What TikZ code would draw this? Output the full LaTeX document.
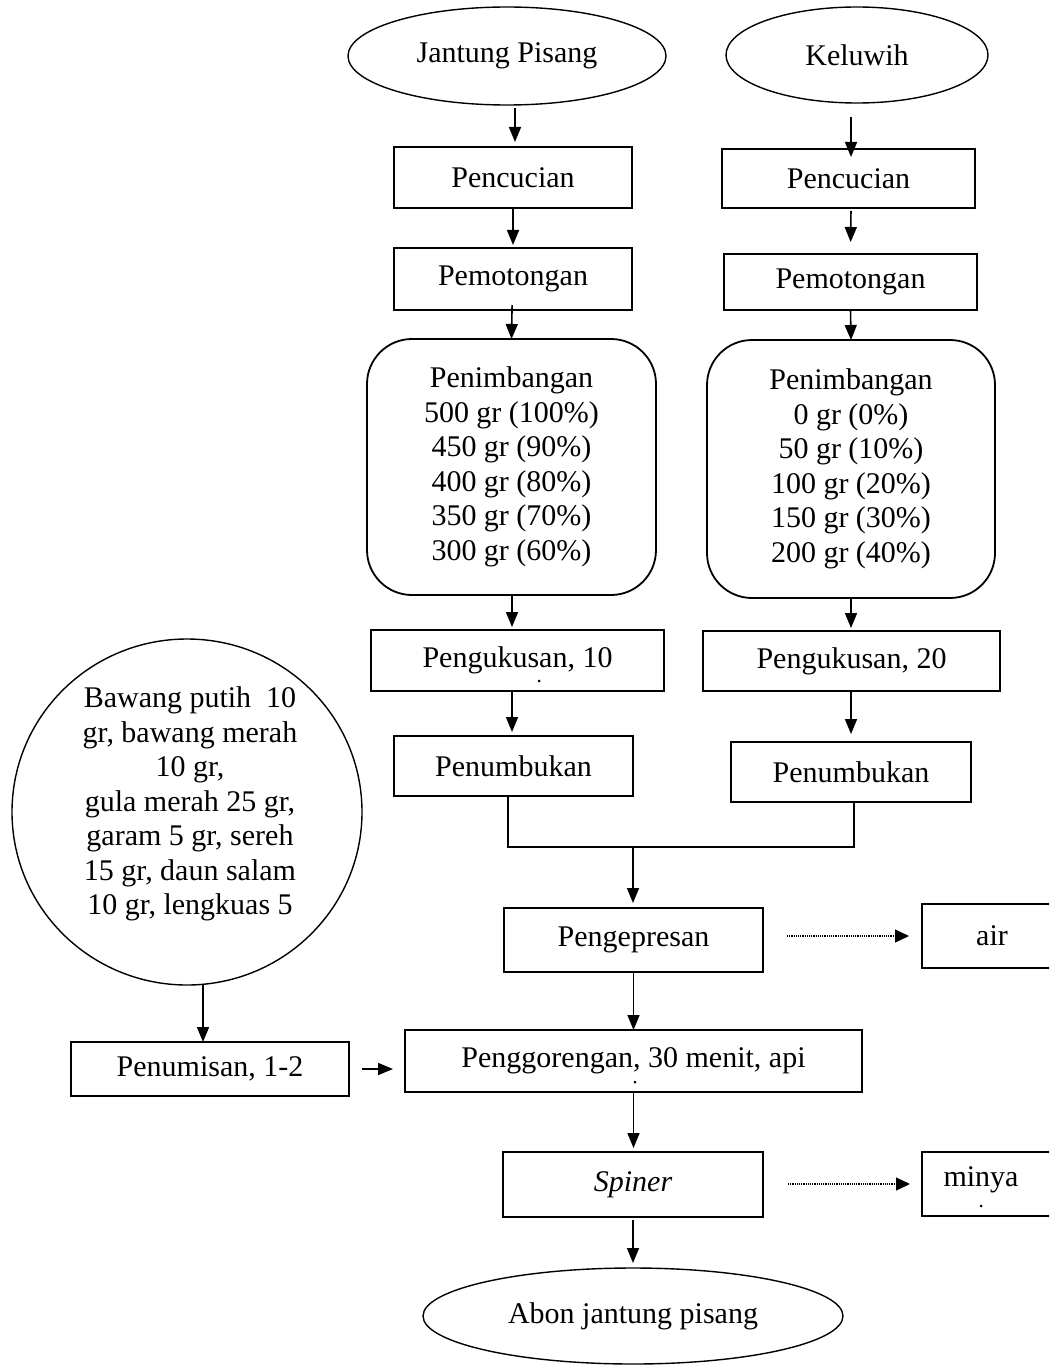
\documentclass[tikz,border=0pt]{standalone}
\usepackage{fontspec}
\setmainfont{Liberation Serif}
\usetikzlibrary{shapes.geometric,arrows.meta}
\begin{document}
\begin{tikzpicture}[x=1pt,y=-1pt,
  every node/.style={font=\fontsize{30}{34.5}\selectfont, inner sep=0pt, outer sep=0pt},
  box/.style={draw, line width=1.8pt, rectangle},
  rbox/.style={draw, line width=1.8pt, rectangle, rounded corners=45pt, align=center},
  ellip/.style={draw, line width=1.4pt, ellipse},
  arr/.style={line width=1.6pt, -{Triangle[length=15pt,width=12pt]}},
  darr/.style={line width=1.1pt, dash pattern=on 1.1pt off 1.1pt, -{Triangle[length=14pt,width=13pt]}},
  ln/.style={line width=1.6pt}
]
\useasboundingbox (0,0) rectangle (1049,1372);
\clip (0,0) rectangle (1049,1372);
\fill[white] (0,0) rectangle (1049,1372);

% start nodes
\node[ellip, minimum width=318pt, minimum height=98pt] (jp) at (507,56) {Jantung Pisang};
\node[ellip, minimum width=262pt, minimum height=96pt] (kel) at (857,55) {Keluwih};

% left column
\node[box, minimum width=238pt, minimum height=61pt] (pc1) at (513,177.5) {Pencucian};
\node[box, minimum width=238pt, minimum height=62pt] (pm1) at (513,279) {Pemotongan};
\node[rbox, minimum width=289pt, minimum height=256pt] (pn1) at (511.5,467)
  {Penimbangan\\500 gr (100\%)\\450 gr (90\%)\\400 gr (80\%)\\350 gr (70\%)\\300 gr (60\%)};
\node[box, minimum width=293pt, minimum height=61pt] (pk1) at (517.5,660.5) {Pengukusan, 10};
\node[box, minimum width=239pt, minimum height=60pt] (pb1) at (513.5,766) {Penumbukan};

% right column
\node[box, minimum width=253pt, minimum height=59pt] (pc2) at (848.5,178.5) {Pencucian};
\node[box, minimum width=253pt, minimum height=56pt] (pm2) at (850.5,282) {Pemotongan};
\node[rbox, minimum width=288pt, minimum height=258pt] (pn2) at (851,469)
  {Penimbangan\\0 gr (0\%)\\50 gr (10\%)\\100 gr (20\%)\\150 gr (30\%)\\200 gr (40\%)};
\node[box, minimum width=297pt, minimum height=60pt] (pk2) at (851.5,661) {Pengukusan, 20};
\node[box, minimum width=240pt, minimum height=60pt] (pb2) at (851,772) {Penumbukan};

% lower part
\node[box, minimum width=259pt, minimum height=64pt] (pg) at (633.5,940) {Pengepresan};
\node[box, minimum width=140pt, minimum height=64pt] (air) at (992,936) {air};
\node[box, minimum width=457pt, minimum height=62pt] (pr) at (633.5,1061) {Penggorengan, 30 menit, api};
\node[box, minimum width=278pt, minimum height=54pt] (ps) at (210,1069) {Penumisan, 1-2};
\node[box, minimum width=260pt, minimum height=65pt] (sp) at (633,1184.5) {\itshape Spiner};
\node[box, minimum width=142pt, minimum height=64pt] (mk) at (993,1184) {};
\node (mktext) at (981,1180) {minya};
\node[ellip, minimum width=420pt, minimum height=96pt] (ab) at (633,1316) {Abon jantung pisang};

% spice circle
\node[ellip, minimum width=350pt, minimum height=346pt] (circ) at (187,812) {};
\node[align=center] (ctext) at (190,804)
  {Bawang putih\ \ 10\\gr, bawang merah\\10 gr,\\gula merah 25 gr,\\garam 5 gr, sereh\\15 gr, daun salam\\10 gr, lengkuas 5};

% clipped second-line remnants
\fill (539,681) circle (1.5pt);
\fill (635,1082) circle (1.5pt);
\fill (981,1206) circle (1.5pt);

% arrows left column
\draw[arr, shorten <=3pt, shorten >=5pt] ([xshift=8pt]jp.south) -- ([xshift=2pt]pc1.north);
\draw[arr, shorten >=3pt] (pc1.south) -- (pm1.north);
\draw[arr, shorten <=-5pt] ([xshift=-1pt]pm1.south) -- (pn1.north);
\draw[arr, shorten >=3pt] ([xshift=0.5pt]pn1.south) -- ([xshift=-5.5pt]pk1.north);
\draw[arr, shorten >=4pt] ([xshift=-5.5pt]pk1.south) -- ([xshift=-1.5pt]pb1.north);

% arrows right column
\draw[arr, shorten <=14pt, shorten >=-8pt] ([xshift=-6pt]kel.south) -- ([xshift=2.5pt]pc2.north);
\draw[arr, shorten <=3pt, shorten >=12pt] ([xshift=2.5pt]pc2.south) -- (pm2.north);
\draw[arr] (pm2.south) -- (pn2.north);
\draw[arr, shorten >=3pt] (pn2.south) -- ([xshift=-0.5pt]pk2.north);
\draw[arr, shorten >=8pt] ([xshift=-0.5pt]pk2.south) -- (pb2.north);

% merge
\coordinate (mj) at (633,847);
\draw[ln] ([xshift=-5.5pt]pb1.south) |- (mj) -| ([xshift=3pt]pb2.south);
\draw[arr, shorten >=5pt] (mj) -- ([xshift=-0.5pt]pg.north);

% lower arrows
\draw[darr, shorten <=24pt, shorten >=13pt] (pg.east |- air.west) -- (air.west);
\draw[arr] (pg.south) -- (pr.north);
\draw[arr, shorten <=13pt, shorten >=12pt] (ps.east) -- (ps.east -| pr.west);
\draw[arr] ([xshift=16pt]circ.south) -- ([xshift=-7pt]ps.north);
\draw[arr, shorten >=4pt] (pr.south) -- ([xshift=0.5pt]sp.north);
\draw[darr, shorten <=25pt, shorten >=12pt] (sp.east |- mk.west) -- (mk.west);
\draw[arr, shorten <=3pt, shorten >=5pt] (sp.south) -- (ab.north);
\end{tikzpicture}
\end{document}
